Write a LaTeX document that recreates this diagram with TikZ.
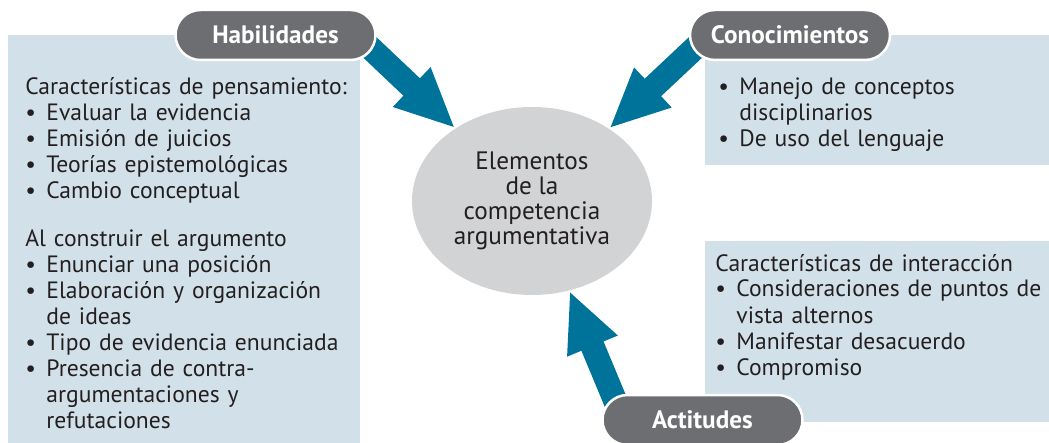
\documentclass[tikz,border=0pt]{standalone}
\usepackage{fontspec}
\setmainfont{PT Sans}
\usetikzlibrary{arrows.meta,shapes.geometric}
\pgfdeclarelayer{back}
\pgfsetlayers{back,main}
\definecolor{boxblue}{HTML}{D2E1E9}
\definecolor{ellgray}{HTML}{D1D3D4}
\definecolor{pillgray}{HTML}{6D6E71}
\definecolor{arrowteal}{HTML}{00739A}
\definecolor{textdark}{HTML}{231F20}
\newcommand\bulx{\hangindent=10.5pt\hangafter=1\makebox[10.5pt][l]{\textbullet}}
\newcommand\bul{\par\noindent\bulx}

\begin{document}
\begin{tikzpicture}
            [x=0.5pt,y=-0.5pt,
             font=\fontsize{11.8}{13}\selectfont,text=textdark,
             pill/.style={rectangle,rounded corners=12.5pt,fill=pillgray,draw=white,
                line width=1.25pt,minimum width=100pt,minimum height=25pt,
                text=white,font=\bfseries\fontsize{12.6}{14}\selectfont},
             txt/.style={text width=170pt,inner sep=0pt,anchor=base west},
             bigarrow/.style={draw=arrowteal,line width=12pt,
                -{Triangle[length=30pt,width=25pt]}}]
            \useasboundingbox (0,0) rectangle (1049,443);
            \node[pill](hab) at (275.5,35){Habilidades};
            \node[pill](con) at (790,35){Conocimientos};
            \node[pill](act) at (702.5,420){Actitudes};
            \node[ellipse,fill=ellgray,minimum width=120pt,minimum height=94pt,
                  inner sep=0pt,align=center,font=\fontsize{12.6}{12.6}\selectfont]
                  (elem) at (532,201){Elementos\\de la\\competencia\\argumentativa};
            \node[txt](hablist) at (25,95){Características de pensamiento:
                \bul Evaluar la evidencia
                \bul Emisión de juicios
                \bul Teorías epistemológicas
                \bul Cambio conceptual\par\vspace{11pt}
                \noindent Al construir el argumento
                \bul Enunciar una posición
                \bul Elaboración y organización\newline de ideas
                \bul Tipo de evidencia enunciada
                \bul Presencia de contra-\newline argumentaciones y\newline refutaciones\par};
            \node[txt](conlist) at (718,95){\bulx Manejo de conceptos\newline disciplinarios
                \bul De uso del lenguaje\par};
            \node[txt](actlist) at (715,271){Características de interacción
                \bul Consideraciones de puntos de\newline vista alternos
                \bul Manifestar desacuerdo
                \bul Compromiso\par};
            \begin{pgfonlayer}{back}
            \fill[boxblue] (8,35) rectangle (360,443);
            \fill[boxblue] (705,35) rectangle (1049,165);
            \fill[boxblue] (705,241) rectangle (1049,422);
            \draw[bigarrow] ([xshift=-10pt]hab.east) -- (elem);
            \draw[bigarrow] ([xshift=10pt]con.west) -- (elem);
            \draw[bigarrow] ([xshift=11pt]act.west) -- (elem);
            \end{pgfonlayer}
        \end{tikzpicture}
\end{document}
